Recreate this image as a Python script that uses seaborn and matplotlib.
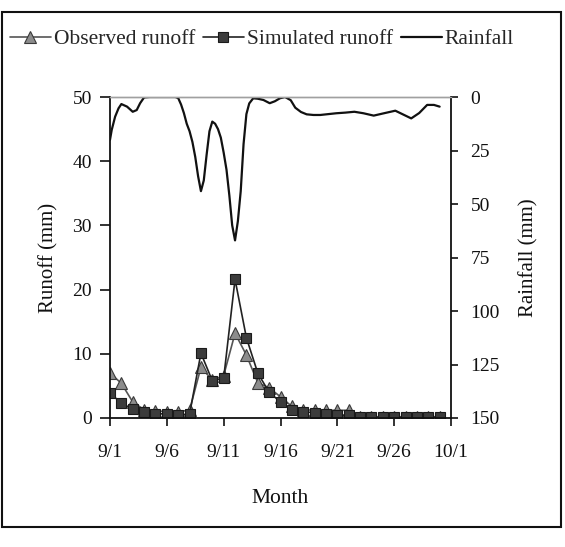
import numpy as np
import pandas as pd
import matplotlib
matplotlib.use("Agg")
import matplotlib.pyplot as plt
from matplotlib.patches import Rectangle
import seaborn as sns

# ---------------- data ----------------
days = list(range(1, 31))
observed = [7.0, 5.4, 2.5, 1.3, 1.1, 1.0, 1.0, 1.2, 7.9, 5.9,
            6.6, 13.2, 9.8, 5.5, 4.7, 3.3, 1.8, 1.3, 1.2, 1.2,
            1.2, 1.2, 0.2, 0.2, 0.2, 0.2, 0.2, 0.2, 0.2, 0.2]
simulated = [3.9, 2.3, 1.4, 0.9, 0.7, 0.6, 0.5, 0.6, 10.1, 5.8,
             6.2, 21.6, 12.5, 7.0, 4.0, 2.5, 1.2, 1.0, 0.8, 0.6,
             0.5, 0.4, 0.1, 0.1, 0.1, 0.1, 0.1, 0.1, 0.1, 0.1]

rain_days = [1.0, 1.15, 1.45, 1.75, 2.0, 2.5, 3.0, 3.35, 3.65, 4.0, 4.5,
             5.0, 6.0, 6.75, 7.0, 7.25, 7.5, 7.75, 8.0, 8.25, 8.5, 8.75,
             9.0, 9.25, 9.5, 9.75, 10.0, 10.25, 10.5, 10.75, 11.0, 11.25,
             11.5, 11.75, 12.0, 12.25, 12.5, 12.75, 13.0, 13.25, 13.6, 14.0,
             14.5, 15.05, 15.5, 15.95, 16.4, 16.9, 17.3, 17.8, 18.3, 18.9,
             19.5, 20.2, 20.9, 21.7, 22.5, 23.3, 24.2, 25.1, 26.1, 26.8,
             27.5, 28.2, 28.9, 29.5, 30.0]
rainfall = [20.0, 15.4, 9.2, 5.3, 3.3, 4.5, 6.9, 6.1, 2.9, 0.2, 0.0,
            0.0, 0.0, 0.0, 0.5, 3.5, 7.5, 12.5, 16.0, 21.0, 28.0, 37.0,
            44.0, 39.0, 27.0, 16.0, 11.5, 12.5, 15.0, 19.0, 26.0, 34.0,
            46.0, 60.0, 67.0, 58.0, 44.0, 22.0, 8.0, 3.0, 0.6, 0.8,
            1.4, 2.9, 2.0, 0.6, 0.0, 1.5, 5.0, 7.0, 8.1, 8.4,
            8.4, 8.0, 7.6, 7.3, 6.9, 7.6, 8.7, 7.6, 6.4, 8.2,
            10.0, 7.5, 3.7, 3.7, 4.5]

xtick_pos = [1, 6, 11, 16, 21, 26, 31]
xtick_labels = ["9/1", "9/6", "9/11", "9/16", "9/21", "9/26", "10/1"]
runoff_ticks = [0, 10, 20, 30, 40, 50]
rain_ticks = [0, 25, 50, 75, 100, 125, 150]

runoff_df = pd.DataFrame({"day": days, "Observed runoff": observed,
                          "Simulated runoff": simulated})
rain_df = pd.DataFrame({"day": rain_days, "Rainfall": rainfall})

# ---------------- style ----------------
sns.set_style("ticks")
plt.rcParams["font.family"] = ["Liberation Serif", "DejaVu Serif"]
plt.rcParams["axes.linewidth"] = 1.3

fig = plt.figure(figsize=(5.65, 5.47), dpi=100)
ax = fig.add_axes([110 / 565, 1 - 418 / 547, (451 - 110) / 565, (418 - 97) / 547])
ax2 = ax.twinx()

sns.lineplot(data=runoff_df, x="day", y="Observed runoff", ax=ax,
             color="#555555", lw=1.2, marker="^", markersize=8,
             markerfacecolor="#8c8c8c", markeredgecolor="#3a3a3a",
             markeredgewidth=0.8, label="Observed runoff", legend=False)
sns.lineplot(data=runoff_df, x="day", y="Simulated runoff", ax=ax,
             color="#222222", lw=1.2, marker="s", markersize=7.2,
             markerfacecolor="#3c3c3c", markeredgecolor="#1a1a1a",
             markeredgewidth=0.8, label="Simulated runoff", legend=False)
sns.lineplot(data=rain_df, x="day", y="Rainfall", ax=ax2,
             color="#111111", lw=1.6, label="Rainfall", legend=False)

ax.set_xlim(1, 31)
ax.set_ylim(0, 50)
ax2.set_ylim(150, 0)

ax.set_xticks(xtick_pos)
ax.set_xticklabels(xtick_labels)
ax.set_yticks(runoff_ticks)
ax2.set_yticks(rain_ticks)

ax.tick_params(axis="x", direction="out", length=6, width=1.2, pad=13,
               labelsize=14, colors="#111111")
ax.tick_params(axis="y", direction="out", length=7, width=1.2, pad=6,
               labelsize=14, colors="#111111")
ax2.tick_params(axis="y", direction="out", length=5, width=1.2, pad=9,
                labelsize=14, colors="#111111")

ax.set_xlabel("Month", fontsize=15.5, labelpad=20, color="#111111")
ax.set_ylabel("Runoff (mm)", fontsize=15, labelpad=10, color="#111111")
ax2.set_ylabel("Rainfall (mm)", fontsize=15, labelpad=14, color="#111111")

for a in (ax, ax2):
    a.spines["top"].set_color("#a0a0a0")
    a.spines["top"].set_linewidth(1.0)
    a.spines["left"].set_color("#111111")
    a.spines["bottom"].set_color("#111111")
    a.spines["right"].set_color("#111111")
ax.spines["right"].set_visible(False)
ax2.spines["left"].set_visible(False)
ax2.spines["bottom"].set_visible(False)

h1, l1 = ax.get_legend_handles_labels()
h2, l2 = ax2.get_legend_handles_labels()
fig.legend(h1 + h2, l1 + l2, loc="center", ncol=3, frameon=False,
           bbox_to_anchor=(262 / 565, 1 - 39 / 547), fontsize=15.5,
           handlelength=1.9, handletextpad=0.15, columnspacing=0.35,
           borderpad=0.1)

fig.patches.append(Rectangle((2 / 565, 1 - 527 / 547), 559 / 565, 515 / 547,
                             transform=fig.transFigure, fill=False,
                             edgecolor="#111111", linewidth=1.5))

fig.savefig("out.png", dpi=100)
